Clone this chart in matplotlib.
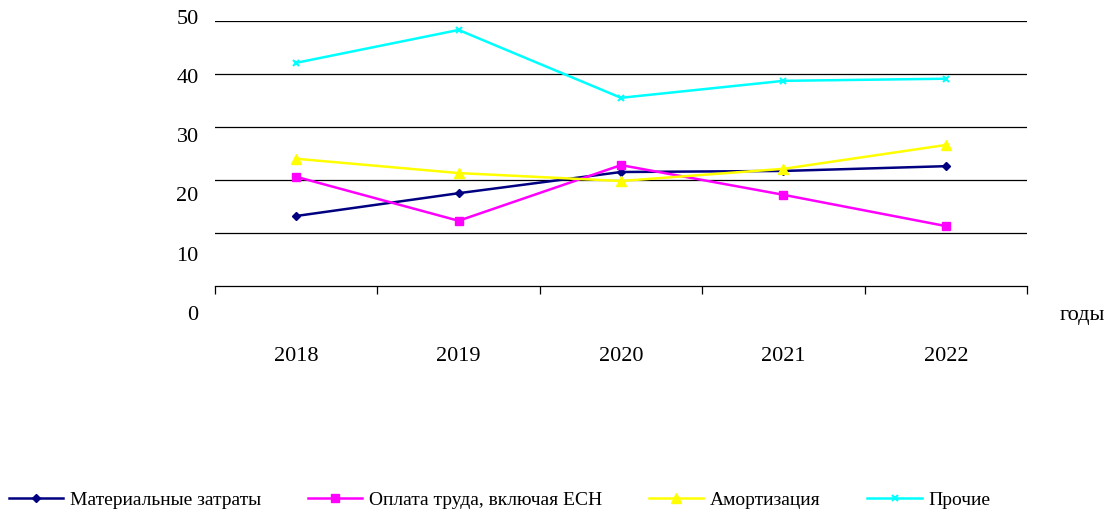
import matplotlib.pyplot as plt
import numpy as np

years = ['2018', '2019', '2020', '2021', '2022']
material = [13.3, 17.6, 21.6, 21.8, 22.7]
salary = [20.7, 12.4, 22.9, 17.3, 11.4]
amort = [24.1, 21.4, 19.9, 22.2, 26.7]
other = [42.2, 48.4, 35.6, 38.8, 39.2]
names = ['Материальные затраты', 'Оплата труда, включая ЕСН', 'Амортизация', 'Прочие']
ylabels = [0, 10, 20, 30, 40, 50]

plt.rcParams['font.family'] = ['Liberation Serif', 'DejaVu Serif']

fig = plt.figure(figsize=(11.12, 5.15), dpi=100)
ax = fig.add_axes([0.1933, 0.4437, 0.7303, 0.5146])

x = np.arange(len(years))
ax.plot(x, material, color='#000080', marker='D', markersize=4, lw=1.8, label=names[0])
ax.plot(x, salary, color='#FF00FF', marker='s', markersize=6, lw=1.8, label=names[1])
ax.plot(x, amort, color='#FFFF00', marker='^', markersize=7, lw=1.8, label=names[2])
ax.plot(x, other, color='#00FFFF', marker='x', markersize=5, mew=1.5, lw=1.8, label=names[3])

ax.set_xlim(-0.5, 4.5)
ax.set_ylim(0, 50)
for g in [10, 20, 30, 40, 50]:
    ax.axhline(g, color='black', lw=0.9, zorder=0)

for s in ['top', 'right', 'left']:
    ax.spines[s].set_visible(False)
ax.spines['bottom'].set_linewidth(0.9)

ax.set_yticks([])
ax.set_xticks(np.arange(-0.5, 5, 1))
ax.set_xticklabels([])
ax.tick_params(axis='x', length=6, width=0.9, direction='out')

# year labels sit well below the axis
for i, y in enumerate(years):
    ax.text(i, -13.3, y, ha='center', va='center', fontsize=16)

# value labels are drawn with their own (stretched) spacing, as in the source
for v in ylabels:
    ax.text(-0.6, v * 1.115 - 5.4, str(v), ha='right', va='center', fontsize=16)

ax.text(4.70, -5.4, 'годы', ha='left', va='center', fontsize=16)

leg = fig.legend(loc='lower left', bbox_to_anchor=(-0.008, -0.022), ncol=4, frameon=False,
                 fontsize=14, handlelength=2.8, columnspacing=2.4, handletextpad=0.35)

plt.savefig('out.png', dpi=100)
